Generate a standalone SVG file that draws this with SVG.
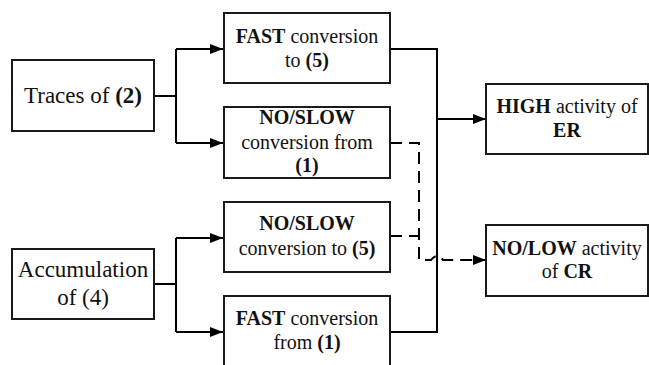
<svg xmlns="http://www.w3.org/2000/svg" width="649" height="365" viewBox="0 0 649 365" font-family="'Liberation Serif', 'DejaVu Serif', serif">
<defs>
<marker id="arr" markerWidth="14" markerHeight="12" refX="13" refY="6" orient="auto" markerUnits="userSpaceOnUse">
<path d="M0,1 L13,6 L0,11 Z" fill="#000"/>
</marker>
<style>
.box{fill:#fff;stroke:#1a1a1a;stroke-width:2}
.ln{fill:none;stroke:#000;stroke-width:2}
.dash{fill:none;stroke:#000;stroke-width:2;stroke-dasharray:12,7}
text{font-family:'Liberation Serif','DejaVu Serif',serif;fill:#111;text-anchor:middle}
.big{font-size:23px}
.mid{font-size:20px}
.b{font-weight:bold}
</style>
</defs>
<rect width="649" height="365" fill="#fff"/>
<g id="connectors">
<path class="ln" d="M154,96 H176 M176,49 V143"/>
<path class="ln" d="M176,49 H223" marker-end="url(#arr)"/>
<path class="ln" d="M176,143 H223" marker-end="url(#arr)"/>
<path class="ln" d="M154,284 H176 M176,238 V332"/>
<path class="ln" d="M176,238 H223" marker-end="url(#arr)"/>
<path class="ln" d="M176,332 H223" marker-end="url(#arr)"/>
<path class="ln" d="M390,49 H437 V332 H390"/>
<path class="ln" d="M437,119 H486" marker-end="url(#arr)"/>
<path class="dash" d="M390,143 H419 V260 H431 Q437,252 443,260 H486" marker-end="url(#arr)"/>
<path class="dash" d="M390,236 H419"/>
</g>
<g id="traces">
<rect class="box" x="12" y="60" width="142" height="71"/>
<text class="big" x="83" y="103">Traces of <tspan class="b">(2)</tspan></text>
</g>
<g id="accumulation">
<rect class="box" x="12" y="249" width="142" height="70"/>
<text class="big" x="83" y="277">Accumulation</text>
<text class="big" x="83" y="305">of (4)</text>
</g>
<g id="fast-to5">
<rect class="box" x="224" y="13" width="166" height="70"/>
<text class="mid" x="307" y="43"><tspan class="b">FAST</tspan> conversion</text>
<text class="mid" x="307" y="67">to <tspan class="b">(5)</tspan></text>
</g>
<g id="slow-from1">
<rect class="box" x="224" y="107" width="166" height="71"/>
<text class="mid b" x="307" y="124">NO/SLOW</text>
<text class="mid" x="307" y="149">conversion from</text>
<text class="mid b" x="307" y="172">(1)</text>
</g>
<g id="slow-to5">
<rect class="box" x="224" y="202" width="166" height="70"/>
<text class="mid b" x="307" y="230">NO/SLOW</text>
<text class="mid" x="307" y="255">conversion to <tspan class="b">(5)</tspan></text>
</g>
<g id="fast-from1">
<rect class="box" x="224" y="296" width="166" height="72"/>
<text class="mid" x="307" y="325"><tspan class="b">FAST</tspan> conversion</text>
<text class="mid" x="307" y="349">from <tspan class="b">(1)</tspan></text>
</g>
<g id="high-er">
<rect class="box" x="486" y="84" width="162" height="70"/>
<text class="mid" x="567" y="113"><tspan class="b">HIGH</tspan> activity of</text>
<text class="mid b" x="567" y="137">ER</text>
</g>
<g id="low-cr">
<rect class="box" x="486" y="225" width="162" height="71"/>
<text class="mid" x="567" y="255"><tspan class="b">NO/LOW</tspan> activity</text>
<text class="mid" x="567" y="278">of <tspan class="b">CR</tspan></text>
</g>
</svg>
